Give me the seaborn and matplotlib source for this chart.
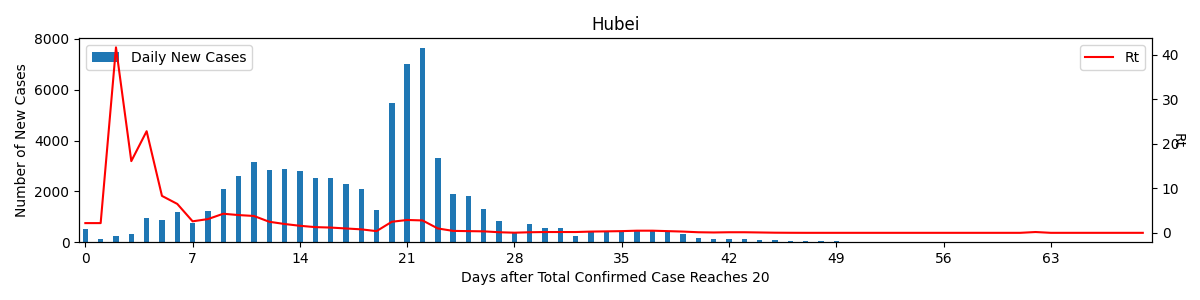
import numpy as np
import pandas as pd
import matplotlib
matplotlib.use('Agg')
import matplotlib.pyplot as plt
import seaborn as sns

# daily new confirmed cases, day 0 .. 49
case_days = list(range(50))
new_cases = [510, 120, 235, 310, 940, 860, 1180, 745, 1215, 2100,
             2590, 3160, 2820, 2860, 2780, 2510, 2510, 2270, 2110, 1250,
             5490, 7020, 7650, 3330, 1880, 1800, 1290, 820, 350, 700,
             550, 550, 235, 430, 400, 420, 470, 470, 390, 310,
             160, 120, 120, 120, 80, 80, 40, 40, 40, 40]

# estimated Rt, day 0 .. 69
rt_days = list(range(70))
rt = [2.2, 2.2, 41.6, 16.1, 22.8, 8.3, 6.5, 2.6, 3.1, 4.3,
      4.0, 3.8, 2.5, 2.0, 1.6, 1.3, 1.2, 1.0, 0.8, 0.4,
      2.5, 2.9, 2.8, 1.0, 0.45, 0.4, 0.35, 0.15, 0.05, 0.15,
      0.2, 0.2, 0.2, 0.3, 0.35, 0.4, 0.5, 0.5, 0.4, 0.3,
      0.15, 0.1, 0.15, 0.15, 0.1, 0.05, 0.03, 0.02, 0.02, 0.02,
      0.02, 0.02, 0.02, 0.02, 0.02, 0.02, 0.02, 0.02, 0.02, 0.02,
      0.02, 0.02, 0.2, 0.02, 0.02, 0.02, 0.02, 0.02, 0.02, 0.02]

cases_df = pd.DataFrame({'day': case_days, 'cases': new_cases})
rt_df = pd.DataFrame({'day': rt_days, 'rt': rt})

fig, ax = plt.subplots(figsize=(12, 3), dpi=100)
sns.barplot(data=cases_df, x='day', y='cases', native_scale=True, width=0.35,
            color='#1f77b4', saturation=1, label='Daily New Cases', ax=ax)
ax.set_xlim(-0.4, 69.6)
ax.set_xticks(np.arange(0, 70, 7))
ax.set_xlabel('Days after Total Confirmed Case Reaches 20')
ax.set_ylabel('Number of New Cases')
ax.legend(loc='upper left')

ax2 = ax.twinx()
sns.lineplot(data=rt_df, x='day', y='rt', color='red', label='Rt', ax=ax2)
ax2.set_ylabel('Rt', rotation=270)
ax2.legend(loc='upper right')

ax.set_title('Hubei')
fig.subplots_adjust(left=0.066, right=0.96, top=0.873, bottom=0.193)
fig.savefig('out.png')
